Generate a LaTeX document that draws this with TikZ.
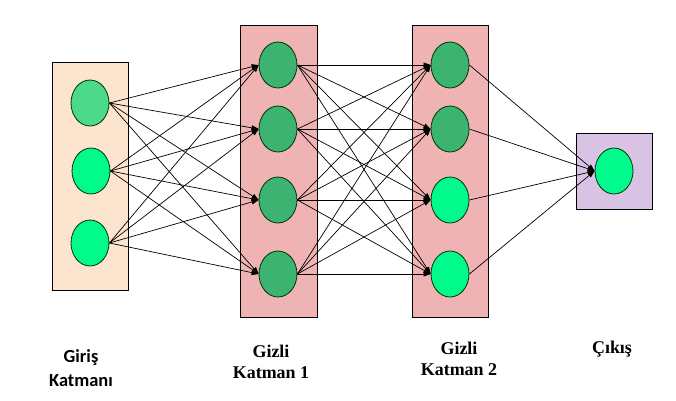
\documentclass[tikz,border=0pt]{standalone}
\usepackage{fontspec}
\setmainfont{Liberation Serif}
\newfontfamily\carl{Carlito}
\usetikzlibrary{shapes.geometric,arrows.meta}
\definecolor{peach}{HTML}{FCE4CF}
\definecolor{pinkbox}{HTML}{EFB3B3}
\definecolor{lilac}{HTML}{D9C3E5}
\definecolor{darkg}{HTML}{3CB371}
\definecolor{lightg}{HTML}{4CD98A}
\definecolor{springg}{HTML}{00FA8C}
\tikzset{
  layerbox/.style={draw=black, line width=0.8bp},
  neuron/.style={ellipse, draw=black!80!green, line width=0.8bp, minimum width=38bp, minimum height=46bp, inner sep=0pt},
  conn/.style={line width=0.7bp, -{Triangle[length=7bp,width=5bp]}},
  sanslab/.style={font=\carl\bfseries\fontsize{18.5}{24}\selectfont, align=center},
  serlab/.style={font=\bfseries\fontsize{18}{21}\selectfont, align=center}
}
\begin{document}
\begin{tikzpicture}[x=1bp,y=-1bp]
\useasboundingbox (0,0) rectangle (676,400);
\fill[white] (0,0) rectangle (676,400);
% boxes
\draw[layerbox, fill=peach] (52,62) rectangle (128,290);
\draw[layerbox, fill=pinkbox] (240,25) rectangle (317,317);
\draw[layerbox, fill=pinkbox] (412,25) rectangle (488,317);
\draw[layerbox, fill=lilac] (576,133) rectangle (652,209);
% input neurons
\node[neuron, fill=lightg] (i1) at (90,103) {};
\node[neuron, fill=springg] (i2) at (91,171) {};
\node[neuron, fill=springg] (i3) at (90,243) {};
% hidden 1
\node[neuron, fill=darkg] (a1) at (278,65) {};
\node[neuron, fill=darkg] (a2) at (278,129) {};
\node[neuron, fill=darkg] (a3) at (278,200) {};
\node[neuron, fill=darkg] (a4) at (278,274) {};
% hidden 2
\node[neuron, fill=darkg] (b1) at (450,65) {};
\node[neuron, fill=darkg] (b2) at (450,129) {};
\node[neuron, fill=springg] (b3) at (450,200) {};
\node[neuron, fill=springg] (b4) at (450,274) {};
% output
\node[neuron, fill=springg] (o) at (614,171) {};
% connections
\foreach \s in {i1,i2,i3}
  \foreach \t in {a1,a2,a3,a4}
    \draw[conn] (\s.east) -- (\t.west);
\foreach \s in {a1,a2,a3,a4}
  \foreach \t in {b1,b2,b3,b4}
    \draw[conn] (\s.east) -- (\t.west);
\foreach \s in {b1,b2,b3,b4}
  \draw[conn] (\s.east) -- (o.west);
% labels (base = baseline of last line)
\node[sanslab, anchor=base] (l0) at (81,386) {Giriş\\Katmanı};
\node[serlab, anchor=base] (l1) at (271,378) {Gizli\\Katman 1};
\node[serlab, anchor=base] (l2) at (459,375) {Gizli\\Katman 2};
\node[serlab, anchor=base] (l3) at (612,353) {Çıkış};
\end{tikzpicture}
\end{document}
